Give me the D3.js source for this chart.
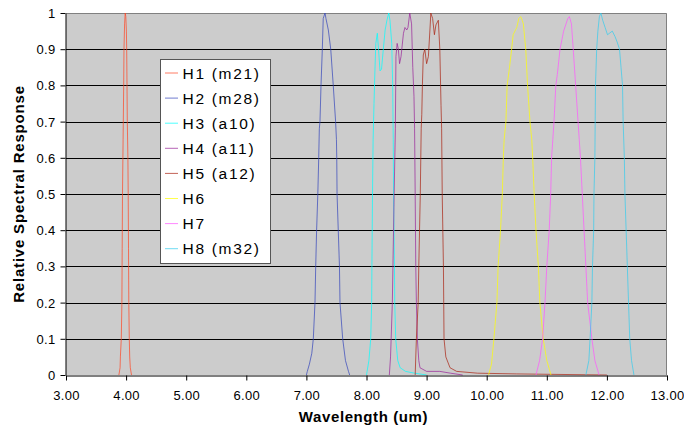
<!DOCTYPE html>
<html>
<head>
<meta charset="utf-8">
<script src="https://cdn.jsdelivr.net/npm/d3@7"></script>
<style>
  html, body { margin: 0; padding: 0; background: #fff; }
  svg { display: block; font-family: "Liberation Sans", Arial, sans-serif; }
</style>
</head>
<body>
<svg id="chart" width="684" height="427"></svg>
<script>
// Relative spectral response per band: [wavelength (um), response]
const h1 = [[3.88,0],[3.90,0.02],[3.905,0.05],[3.92,0.1],[3.93,0.2],[3.935,0.35],[3.94,0.5],[3.95,0.65],[3.96,0.8],[3.965,0.9],[3.975,0.97],[3.985,1.0],[3.995,0.99],[4.005,0.95],[4.01,0.9],[4.015,0.8],[4.02,0.7],[4.03,0.6],[4.035,0.5],[4.04,0.35],[4.045,0.2],[4.053,0.1],[4.06,0.05],[4.07,0.02],[4.09,0]];
const h2 = [[7.00,0],[7.015,0.01],[7.05,0.03],[7.09,0.06],[7.115,0.1],[7.143,0.2],[7.155,0.3],[7.17,0.4],[7.19,0.5],[7.205,0.6],[7.215,0.68],[7.226,0.7],[7.243,0.8],[7.265,0.9],[7.28,0.985],[7.31,1.0],[7.325,0.985],[7.365,0.953],[7.405,0.9],[7.447,0.8],[7.486,0.7],[7.50,0.65],[7.505,0.6],[7.51,0.5],[7.53,0.4],[7.55,0.3],[7.559,0.2],[7.604,0.1],[7.65,0.04],[7.70,0.01],[7.72,0]];
const h3 = [[8.00,0],[8.01,0.01],[8.04,0.04],[8.07,0.1],[8.086,0.2],[8.09,0.3],[8.10,0.5],[8.11,0.65],[8.125,0.75],[8.14,0.84],[8.155,0.916],[8.18,0.944],[8.20,0.9],[8.225,0.84],[8.25,0.845],[8.28,0.9],[8.31,0.953],[8.34,0.98],[8.37,1.0],[8.39,0.98],[8.42,0.916],[8.435,0.806],[8.445,0.65],[8.45,0.5],[8.465,0.3],[8.47,0.2],[8.486,0.1],[8.52,0.04],[8.56,0.02],[8.65,0.01],[8.8,0.005],[9.0,0]];
const h4 = [[8.38,0],[8.40,0.05],[8.41,0.1],[8.43,0.2],[8.44,0.3],[8.46,0.5],[8.48,0.68],[8.486,0.8],[8.49,0.88],[8.51,0.916],[8.53,0.9],[8.55,0.86],[8.575,0.88],[8.615,0.944],[8.64,0.96],[8.67,0.953],[8.69,0.96],[8.72,1.0],[8.75,0.97],[8.77,0.85],[8.79,0.77],[8.80,0.68],[8.81,0.5],[8.815,0.4],[8.82,0.3],[8.83,0.2],[8.846,0.1],[8.87,0.04],[8.89,0.02],[9.0,0.01],[9.22,0.01],[9.4,0.005],[9.6,0]];
const h5 = [[8.81,0],[8.83,0.1],[8.86,0.2],[8.87,0.3],[8.895,0.5],[8.91,0.68],[8.92,0.72],[8.93,0.8],[8.945,0.884],[8.97,0.9],[9.0,0.86],[9.03,0.88],[9.06,0.967],[9.07,1.0],[9.10,0.985],[9.13,0.94],[9.155,0.967],[9.195,0.98],[9.22,0.9],[9.24,0.745],[9.25,0.68],[9.26,0.5],[9.28,0.3],[9.285,0.2],[9.29,0.1],[9.32,0.05],[9.39,0.02],[9.5,0.01],[9.85,0.005],[10.5,0.003],[12.0,0]];
const h6 = [[10.03,0],[10.08,0.03],[10.12,0.1],[10.17,0.2],[10.19,0.3],[10.23,0.4],[10.26,0.5],[10.277,0.6],[10.29,0.65],[10.32,0.7],[10.34,0.8],[10.38,0.85],[10.415,0.9],[10.44,0.94],[10.50,0.96],[10.535,0.985],[10.565,0.99],[10.59,0.98],[10.61,0.97],[10.65,0.9],[10.68,0.8],[10.72,0.7],[10.75,0.65],[10.765,0.6],[10.79,0.5],[10.82,0.4],[10.86,0.3],[10.885,0.2],[10.94,0.1],[11.0,0.04],[11.07,0]];
const h7 = [[10.82,0],[10.88,0.04],[10.93,0.1],[10.97,0.2],[11.0,0.3],[11.04,0.4],[11.065,0.5],[11.08,0.6],[11.10,0.65],[11.12,0.7],[11.15,0.8],[11.175,0.83],[11.22,0.9],[11.28,0.95],[11.32,0.97],[11.35,0.985],[11.375,0.99],[11.41,0.97],[11.44,0.9],[11.48,0.8],[11.52,0.7],[11.54,0.65],[11.56,0.6],[11.59,0.5],[11.62,0.4],[11.65,0.3],[11.68,0.2],[11.75,0.1],[11.80,0.04],[11.87,0]];
const h8 = [[11.65,0],[11.70,0.04],[11.72,0.1],[11.75,0.2],[11.76,0.3],[11.78,0.4],[11.785,0.5],[11.80,0.6],[11.81,0.8],[11.83,0.9],[11.85,0.95],[11.875,0.99],[11.90,1.0],[11.93,0.98],[11.97,0.96],[12.01,0.94],[12.05,0.945],[12.09,0.95],[12.135,0.935],[12.17,0.92],[12.21,0.9],[12.235,0.85],[12.26,0.8],[12.27,0.7],[12.29,0.6],[12.30,0.5],[12.32,0.4],[12.34,0.3],[12.36,0.2],[12.38,0.1],[12.41,0.04],[12.45,0]];

const seriesNames = ["H1 (m21)", "H2 (m28)", "H3 (a10)", "H4 (a11)", "H5 (a12)", "H6", "H7", "H8 (m32)"];
const seriesData = [h1, h2, h3, h4, h5, h6, h7, h8];
const xTicks = [3, 4, 5, 6, 7, 8, 9, 10, 11, 12, 13];
const yTicks = [0, 0.1, 0.2, 0.3, 0.4, 0.5, 0.6, 0.7, 0.8, 0.9, 1];

const colors = ["#ff4422", "#3344bb", "#00ffff", "#992299", "#aa2211", "#ffff00", "#ff55ff", "#33ccee"];

const svg = d3.select("#chart");
const plot = { left: 66, right: 667, top: 13, bottom: 375 };

const x = d3.scaleLinear().domain([3, 13]).range([plot.left, plot.right]);
const y = d3.scaleLinear().domain([0, 1]).range([plot.bottom, plot.top]);

// plot background
svg.append("rect")
  .attr("x", plot.left).attr("y", plot.top)
  .attr("width", plot.right - plot.left).attr("height", plot.bottom - plot.top)
  .attr("fill", "#cccccc");

// horizontal gridlines
svg.append("g").selectAll("line")
  .data(yTicks.filter(v => v > 0 && v < 1))
  .join("line")
  .attr("x1", plot.left).attr("x2", plot.right)
  .attr("y1", d => Math.round(y(d)) + 0.5).attr("y2", d => Math.round(y(d)) + 0.5)
  .attr("stroke", "#000").attr("stroke-width", 1);

// plot frame on top and right
svg.append("path")
  .attr("d", `M${plot.left},${plot.top + 0.5}H${plot.right - 0.5}V${plot.bottom}`)
  .attr("fill", "none").attr("stroke", "#808080").attr("stroke-width", 1);

// response curves
const line = d3.line().x(d => x(d[0])).y(d => y(d[1]));
svg.append("g").selectAll("path")
  .data(seriesData)
  .join("path")
  .attr("d", line)
  .attr("fill", "none")
  .attr("stroke", (d, i) => colors[i])
  .attr("stroke-width", 1)
  .attr("stroke-opacity", 0.7);

// axes
const xAxis = d3.axisBottom(x).tickValues(xTicks).tickFormat(d3.format(".2f")).tickSize(5).tickSizeOuter(0);
const yAxis = d3.axisLeft(y).tickValues(yTicks).tickFormat(d => d === 0 ? "0" : d === 1 ? "1" : d3.format(".1f")(d)).tickSize(5).tickSizeOuter(0);

const gx = svg.append("g").attr("transform", `translate(0,${plot.bottom + 0.5})`).call(xAxis);
const gy = svg.append("g").attr("transform", `translate(${plot.left - 0.5},0)`).call(yAxis);

[gx, gy].forEach(g => {
  g.select(".domain").attr("stroke", "#000");
  g.selectAll(".tick line").attr("stroke", "#000");
  g.selectAll(".tick text")
    .attr("fill", "#000")
    .style("font-family", "'Liberation Sans', Arial, sans-serif")
    .style("font-size", "13px")
    .style("letter-spacing", "0.3px");
});
gx.selectAll(".tick text").attr("dy", null).attr("y", 24.5);
gy.selectAll(".tick text").attr("x", -10).attr("dy", "0.35em");

// axis titles
svg.append("text")
  .attr("x", (plot.left + plot.right) / 2 - 3)
  .attr("y", 422)
  .attr("text-anchor", "middle")
  .style("font-size", "15px").style("font-weight", "bold").style("letter-spacing", "0.6px")
  .text("Wavelength (um)");

svg.append("text")
  .attr("transform", `translate(24,${(plot.top + plot.bottom) / 2}) rotate(-90)`)
  .attr("text-anchor", "middle")
  .style("font-size", "15px").style("font-weight", "bold").style("letter-spacing", "0.8px")
  .text("Relative Spectral Response");

// legend
const legend = svg.append("g");
legend.append("rect")
  .attr("x", 160.5).attr("y", 59.5).attr("width", 110).attr("height", 204)
  .attr("fill", "#fff").attr("stroke", "#555").attr("stroke-width", 1);

const items = legend.selectAll("g.item")
  .data(seriesNames)
  .join("g")
  .attr("class", "item")
  .attr("transform", (d, i) => `translate(0,${72.5 + i * 25.1})`);

items.append("line")
  .attr("x1", 165).attr("x2", 178).attr("y1", 0.5).attr("y2", 0.5)
  .attr("stroke", (d, i) => colors[i]).attr("stroke-width", 1)
  .attr("stroke-opacity", 0.7);

items.append("text")
  .attr("x", 182.5).attr("y", 6)
  .style("font-size", "15.5px").style("letter-spacing", "1.7px")
  .attr("fill", "#000")
  .text(d => d);
</script>
</body>
</html>
